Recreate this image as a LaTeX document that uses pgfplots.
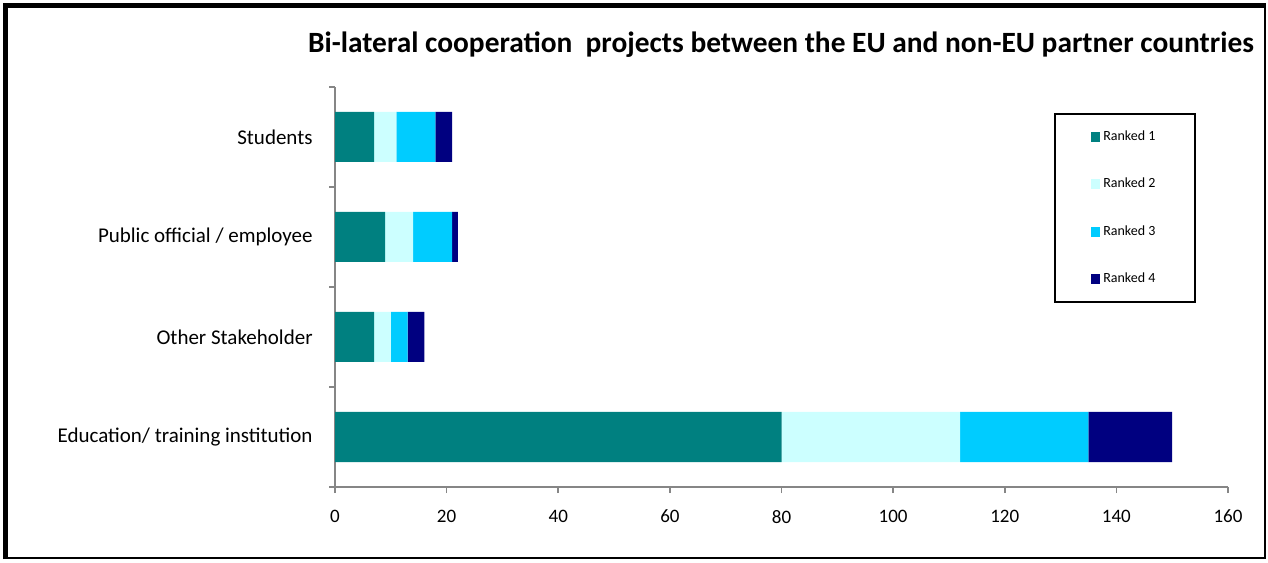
\documentclass[border=0pt]{standalone}
\usepackage{pgfplots}
\pgfplotsset{compat=1.18}
\usepackage{fontspec}
\setmainfont{Carlito}
\definecolor{rA}{HTML}{008080}
\definecolor{rB}{HTML}{CCFFFF}
\definecolor{rC}{HTML}{00CCFF}
\definecolor{rD}{HTML}{000080}
\definecolor{axgray}{HTML}{868686}
\begin{document}
\begin{tikzpicture}[x=1pt,y=1pt]
\useasboundingbox (0,0) rectangle (634,281);
\draw[black,line width=2.5pt] (2.5,1.5) -- (2.5,278) -- (632.8,278);
\draw[black,line width=1pt] (632.5,278) -- (632.5,2) -- (2.5,2);
\node[font=\bfseries\fontsize{14.7}{16}\selectfont,anchor=center] at (390.5,258.5) {Bi-lateral cooperation\ \ projects between the EU and non-EU partner countries};
\begin{axis}[
  at={(167.5pt,37.5pt)}, anchor=south west,
  scale only axis, width=446.5pt, height=200pt,
  xbar stacked, bar width=0.5,
  xmin=0, xmax=160, ymin=-0.5, ymax=3.5,
  xtick={0,20,...,160},
  ytick={0,1,2,3},
  yticklabels={Education/ training institution, Other Stakeholder, Public official / employee, Students},
  minor ytick={-0.5,0.5,1.5,2.5,3.5},
  axis lines*=left,
  axis line style={axgray, line width=0.8pt},
  tick style={axgray, line width=0.8pt},
  tick align=outside,
  major tick length=3pt, minor tick length=3pt,
  major y tick style={draw=none},
  minor y tick style={draw=axgray},
  tick label style={font=\fontsize{9.5}{11}\selectfont},
  /pgf/number format/assume math mode=true,
  yticklabel style={inner xsep=0pt, xshift=-8pt, font=\fontsize{10.5}{12}\selectfont},
  xticklabel style={yshift=-5pt},
  legend style={at={(rel axis cs:0.805,0.935)}, anchor=north west, draw=black, line width=1pt,
     minimum width=70pt, minimum height=94pt, row sep=14.3pt,
     nodes={minimum width=0pt, minimum height=0pt, inner sep=1.5pt},
     font=\fontsize{7}{8}\selectfont, cells={anchor=west}},
  legend image code/.code={\fill[#1] (0pt,-2.5pt) rectangle (4.5pt,2.5pt);},
]
\addplot[fill=rA, draw=none] coordinates {(80,0) (7,1) (9,2) (7,3)};
\addplot[fill=rB, draw=none] coordinates {(32,0) (3,1) (5,2) (4,3)};
\addplot[fill=rC, draw=none] coordinates {(23,0) (3,1) (7,2) (7,3)};
\addplot[fill=rD, draw=none] coordinates {(15,0) (3,1) (1,2) (3,3)};
\legend{Ranked 1, Ranked 2, Ranked 3, Ranked 4}
\end{axis}
\end{tikzpicture}
\end{document}
